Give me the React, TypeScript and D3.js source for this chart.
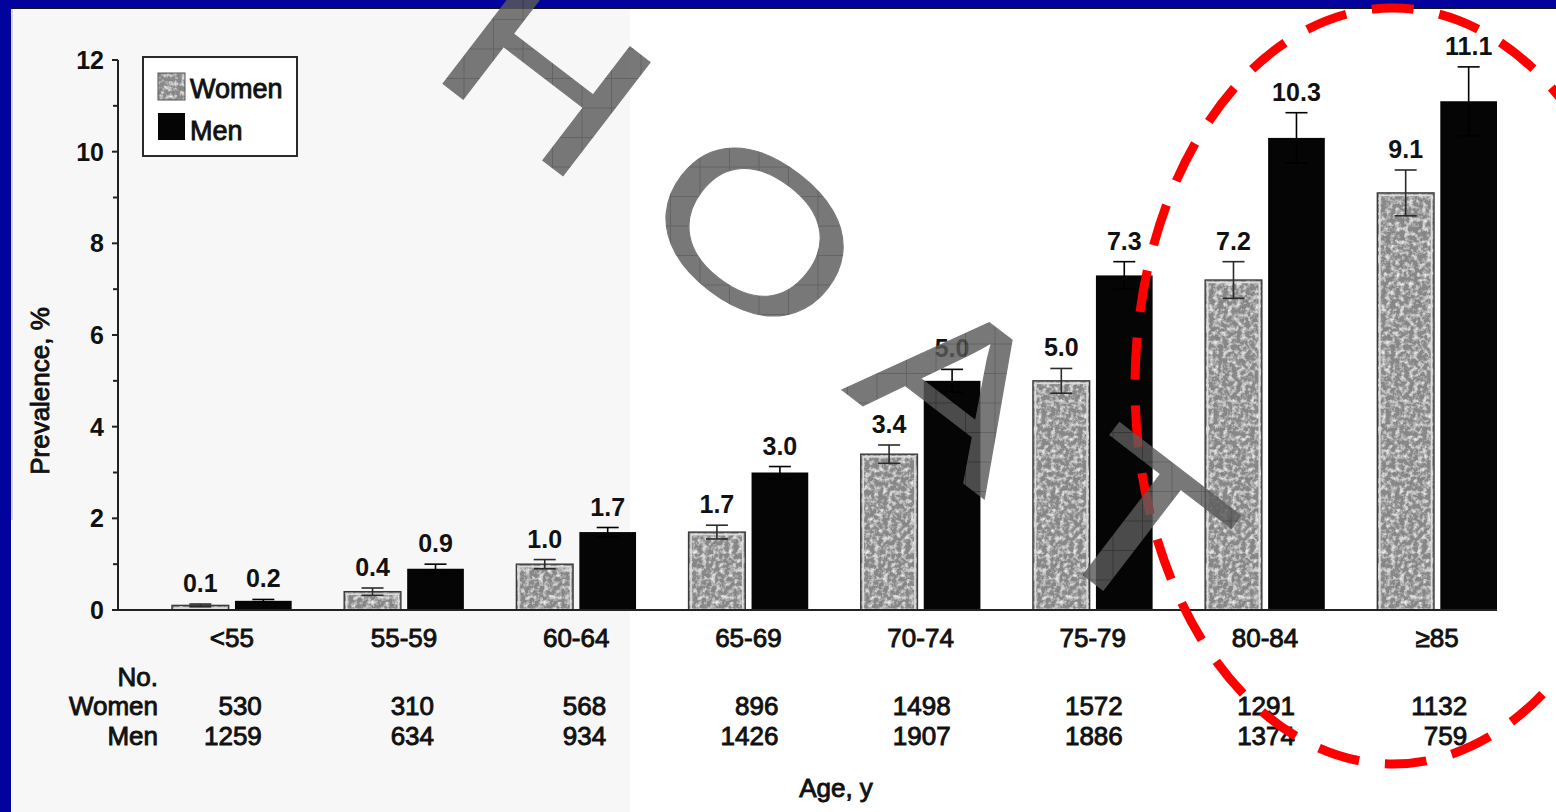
import React from "react";
import * as d3 from "d3";

// Prevalence by age group and sex
const ageGroups = ["<55", "55-59", "60-64", "65-69", "70-74", "75-79", "80-84", "≥85"];
const seriesNames = ["Women", "Men"];
const womenPrevalence = [0.1, 0.4, 1.0, 1.7, 3.4, 5.0, 7.2, 9.1];
const menPrevalence = [0.2, 0.9, 1.7, 3.0, 5.0, 7.3, 10.3, 11.1];
const womenError = [0.03, 0.08, 0.1, 0.15, 0.2, 0.27, 0.4, 0.5];
const menError = [0.03, 0.1, 0.1, 0.13, 0.25, 0.3, 0.55, 0.75];
const womenCounts = [530, 310, 568, 896, 1498, 1572, 1291, 1132];
const menCounts = [1259, 634, 934, 1426, 1907, 1886, 1374, 759];
const yTicks = [0, 2, 4, 6, 8, 10, 12];
const yMinorTicks = [1, 3, 5, 7, 9, 11];
const watermarkLetters = ["H", "O", "A", "T"];

const W = 1556;
const H = 812;
const FONT = "'Liberation Sans', Arial, Helvetica, sans-serif";
const INK = "#111";
const BLUE = "#02029c";
const WOMEN_FILL = "#888888";

export default function App() {
  const x = d3.scaleBand<string>().domain(ageGroups).range([172, 1497]).paddingInner(0.305).paddingOuter(0);
  const xi = d3.scaleBand<string>().domain(seriesNames).range([0, x.bandwidth()]).paddingInner(0.1);
  const y = d3.scaleLinear().domain([0, 12]).range([610, 60]);
  const axisLeft = 118;
  const axisRight = 1497;

  const series = [
    { name: "Women", values: womenPrevalence, errors: womenError },
    { name: "Men", values: menPrevalence, errors: menError },
  ];

  const softText = { stroke: INK, strokeWidth: 0.9, paintOrder: "stroke" as const };

  // offsets of the watermark letters along their rotated baseline
  const letterOffsets = [0, 262, 517, 744];

  return (
    <svg width={W} height={H} style={{ position: "absolute", left: 0, top: 0, background: "#fff" }} fontFamily={FONT}>
      <defs>
        <filter id="grain" x="0" y="0" width="1" height="1">
          <feTurbulence type="fractalNoise" baseFrequency="0.22" numOctaves="3" seed="7" result="noise" />
          <feColorMatrix in="noise" type="matrix" values="0 0 0 0 0.2  0 0 0 0 0.2  0 0 0 0 0.2  -1.6 0 0 0 0.78" result="dark" />
          <feColorMatrix in="noise" type="matrix" values="0 0 0 0 1  0 0 0 0 1  0 0 0 0 1  0 1.9 0 0 -0.82" result="light" />
          <feComposite in="dark" in2="SourceGraphic" operator="atop" result="d1" />
          <feComposite in="light" in2="d1" operator="atop" />
        </filter>
        <pattern id="wmGrid" patternUnits="userSpaceOnUse" x={21} y={19} width={29.5} height={29.5}>
          <path d="M0.5 0 V29.5 M0 0.5 H29.5" stroke="#333" strokeWidth={1} fill="none" />
        </pattern>
        <mask id="wmMask" maskUnits="userSpaceOnUse" x={0} y={0} width={W} height={H}>
          <rect x={0} y={0} width={W} height={H} fill="black" />
          <g transform="translate(548,71) rotate(37.5)">
            {watermarkLetters.map((ch, i) => (
              <text
                key={i}
                transform={`translate(${letterOffsets[i]},0) scale(1.3,1)`}
                y={74}
                textAnchor="middle"
                fontSize={208}
                fontFamily={FONT}
                fill="white"
                stroke="white"
                strokeWidth={1}
              >
                {ch}
              </text>
            ))}
          </g>
        </mask>
      </defs>

      {/* page and slide frame */}
      <rect x={0} y={0} width={W} height={H} fill="#fff" />
      <rect x={12} y={9} width={618} height={H - 9} fill="#f7f7f7" />
      <rect x={0} y={0} width={W} height={7} fill={BLUE} />
      <rect x={0} y={7} width={W} height={2} fill="#141414" />
      <rect x={0} y={0} width={11} height={H} fill={BLUE} />
      <line x1={12} x2={12} y1={9} y2={520} stroke="#c8c8c8" strokeWidth={1.5} />

      {/* y axis */}
      <line x1={axisLeft} x2={axisLeft} y1={y(12)} y2={y(0)} stroke="#222" strokeWidth={2} />
      {yTicks.map((t) => (
        <g key={t}>
          <line x1={axisLeft - 6} x2={axisLeft} y1={y(t)} y2={y(t)} stroke="#222" strokeWidth={2} />
          <text x={104} y={y(t)} dy="0.36em" textAnchor="end" fontSize={25} fontWeight="bold" fill={INK}>
            {t}
          </text>
        </g>
      ))}
      {yMinorTicks.map((t) => (
        <line key={t} x1={axisLeft - 5} x2={axisLeft} y1={y(t)} y2={y(t)} stroke="#222" strokeWidth={2} />
      ))}
      <text
        transform={`translate(40,${(y(0) + y(12)) / 2 + 56}) rotate(-90)`}
        textAnchor="middle"
        dy="0.35em"
        fontSize={26}
        fill={INK}
        {...softText}
      >
        Prevalence, %
      </text>

      {/* bars with error bars and value labels */}
      {ageGroups.map((g, gi) => (
        <g key={g} transform={`translate(${x(g)},0)`}>
          {series.map((s) => {
            const v = s.values[gi];
            const e = s.errors[gi];
            const bx = xi(s.name) as number;
            const bw = xi.bandwidth();
            const cx = bx + bw / 2;
            const isWomen = s.name === "Women";
            return (
              <g key={s.name}>
                {isWomen ? (
                  <>
                    <rect x={bx} y={y(v)} width={bw} height={y(0) - y(v)} fill={WOMEN_FILL} filter="url(#grain)" />
                    <rect x={bx + 2.5} y={y(v) + 2.5} width={Math.max(bw - 5, 0)} height={Math.max(y(0) - y(v) - 3, 0)} fill="none" stroke="#dcdcdc" strokeWidth={1.6} />
                    <rect x={bx} y={y(v)} width={bw} height={y(0) - y(v)} fill="none" stroke="#3a3a3a" strokeWidth={1.4} />
                  </>
                ) : (
                  <rect x={bx} y={y(v)} width={bw} height={y(0) - y(v)} fill="#050505" />
                )}
                <g stroke={isWomen ? "#2a2a2a" : "#000"} strokeWidth={1.6}>
                  <line x1={cx} x2={cx} y1={y(v + e)} y2={y(Math.max(v - e, 0))} />
                  <line x1={cx - 11} x2={cx + 11} y1={y(v + e)} y2={y(v + e)} />
                  <line x1={cx - 11} x2={cx + 11} y1={y(Math.max(v - e, 0))} y2={y(Math.max(v - e, 0))} />
                </g>
                <text x={cx} y={y(v + e) - 12} textAnchor="middle" fontSize={25} fontWeight="bold" fill={INK}>
                  {v.toFixed(1)}
                </text>
              </g>
            );
          })}
        </g>
      ))}

      {/* x axis baseline */}
      <line x1={axisLeft - 6} x2={axisRight} y1={y(0)} y2={y(0)} stroke="#222" strokeWidth={2.2} />

      {/* category labels and counts */}
      {ageGroups.map((g) => (
        <text key={g} x={(x(g) as number) + x.bandwidth() / 2} y={647} textAnchor="middle" fontSize={26} fill={INK} {...softText}>
          {g}
        </text>
      ))}
      <text x={158} y={686} textAnchor="end" fontSize={26} fill={INK} {...softText}>No.</text>
      <text x={158} y={715} textAnchor="end" fontSize={26} fill={INK} {...softText}>Women</text>
      <text x={158} y={745} textAnchor="end" fontSize={26} fill={INK} {...softText}>Men</text>
      {ageGroups.map((g, gi) => {
        const rx = (x(g) as number) + x.bandwidth() / 2 + 30;
        return (
          <g key={g}>
            <text x={rx} y={715} textAnchor="end" fontSize={26} fill={INK} {...softText}>{womenCounts[gi]}</text>
            <text x={rx} y={745} textAnchor="end" fontSize={26} fill={INK} {...softText}>{menCounts[gi]}</text>
          </g>
        );
      })}
      <text x={836} y={797} textAnchor="middle" fontSize={26} fill={INK} {...softText}>Age, y</text>

      {/* legend */}
      <g>
        <rect x={143} y={57} width={154} height={99} fill="#fff" stroke="#2a2a2a" strokeWidth={2} />
        <rect x={158} y={73} width={27} height={27} fill={WOMEN_FILL} filter="url(#grain)" />
        <rect x={158} y={73} width={27} height={27} fill="none" stroke="#555" strokeWidth={1} />
        <rect x={158} y={113} width={27} height={27} fill="#050505" />
        <text x={190} y={98} fontSize={27} fill={INK} {...softText}>{seriesNames[0]}</text>
        <text x={190} y={140} fontSize={27} fill={INK} {...softText}>{seriesNames[1]}</text>
      </g>

      {/* highlight around the oldest groups */}
      <ellipse cx={1393} cy={386} rx={258} ry={378} fill="none" stroke="#ff0000" strokeWidth={9} strokeDasharray="42 26" strokeDashoffset={6} />

      {/* watermark */}
      <g mask="url(#wmMask)" opacity={0.82}>
        <rect x={0} y={0} width={W} height={H} fill="#5b5b5b" />
        <rect x={0} y={0} width={W} height={H} fill="url(#wmGrid)" opacity={0.6} />
      </g>
    </svg>
  );
}
